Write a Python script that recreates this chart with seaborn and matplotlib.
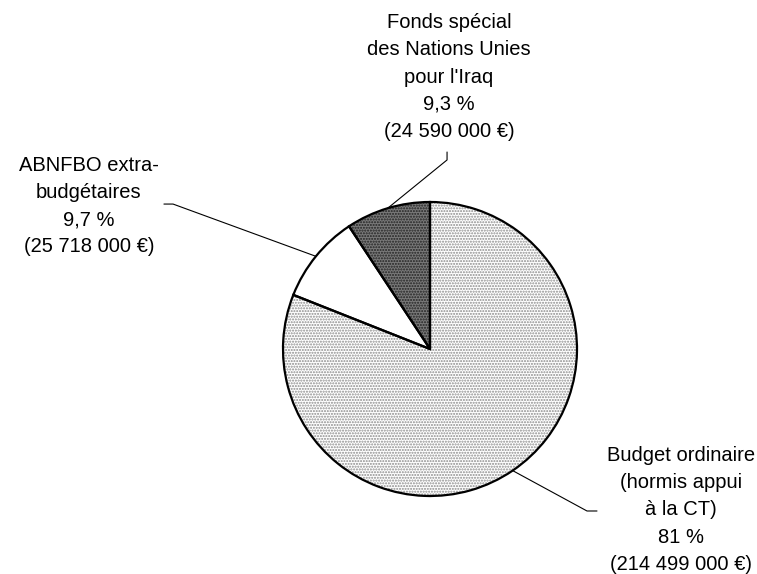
import numpy as np
import matplotlib
matplotlib.use('Agg')
import matplotlib.pyplot as plt
import seaborn as sns

# data (EUR), clockwise from 12 o'clock
labels = ['Budget ordinaire\n(hormis appui\nà la CT)',
          'ABNFBO extra-\nbudgétaires',
          'Fonds spécial\ndes Nations Unies\npour l\'Iraq']
amounts = [214499000, 25718000, 24590000]
pct_text = ['81 %', '9,7 %', '9,3 %']
amount_text = ['(214 499 000 €)', '(25 718 000 €)', '(24 590 000 €)']

# styles
faces = ['white', 'white', '#7a7a7a']
hatch_colors = ['#8c8c8c', 'white', '#222222']
hatches = ['......', '', '......']

# label layout in axes units (radius = 1)
text_pos = [(1.708, -1.095), (-2.320, 0.973), (0.129, 1.850)]
elbow_a = [(1.136, -1.102), (-1.810, 0.986), (0.116, 1.340)]
elbow_b = [(1.068, -1.102), (-1.748, 0.986), (0.116, 1.286)]

sns.set_theme(style='white')
plt.rcParams['font.family'] = ['Liberation Sans', 'DejaVu Sans']

fig = plt.figure(figsize=(7.57, 5.74), dpi=100)
cx, cy, r = 430, 349, 147
ax = fig.add_axes([(cx - r) / 757, (574 - cy - r) / 574, 2 * r / 757, 2 * r / 574])

# filled / hatched wedges
wedges, _ = ax.pie(amounts, startangle=90, counterclock=False, radius=1,
                   colors=faces, wedgeprops=dict(linewidth=0))
for w, hc, h in zip(wedges, hatch_colors, hatches):
    w.set_edgecolor(hc)
    w.set_hatch(h)
    w.set_linewidth(0)

# black outline on top
ax.pie(amounts, startangle=90, counterclock=False, radius=1,
       wedgeprops=dict(fill=False, edgecolor='black', linewidth=1.6))

ax.set_xlim(-1, 1)
ax.set_ylim(-1, 1)
ax.axis('off')

for i, w in enumerate(wedges):
    ang = np.deg2rad((w.theta1 + w.theta2) / 2)
    px, py = np.cos(ang), np.sin(ang)
    xs = [elbow_a[i][0], elbow_b[i][0], px]
    ys = [elbow_a[i][1], elbow_b[i][1], py]
    ax.plot(xs, ys, color='black', lw=0.8, clip_on=False)
    txt = labels[i] + '\n' + pct_text[i] + '\n' + amount_text[i]
    ax.text(text_pos[i][0], text_pos[i][1], txt, ha='center', va='center',
            multialignment='center', fontsize=14.5, linespacing=1.55,
            color='black', clip_on=False)

fig.savefig('out.png', dpi=100, facecolor='white')
